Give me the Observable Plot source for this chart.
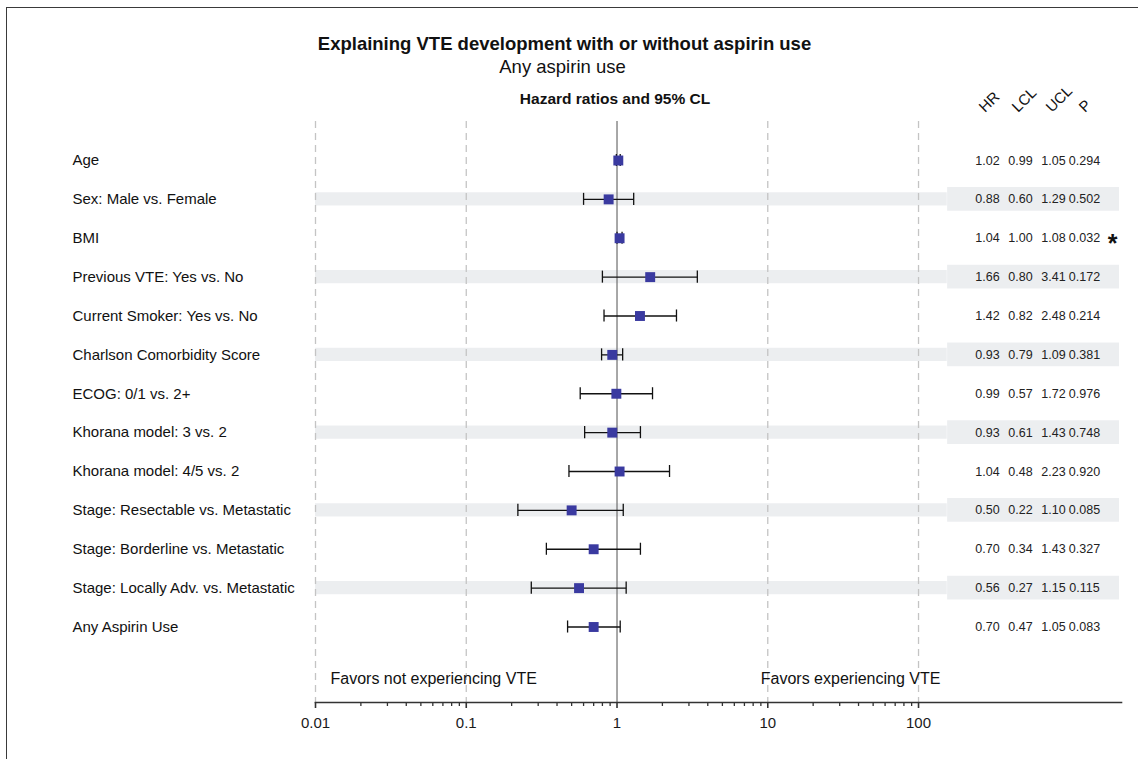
<!DOCTYPE html>
<html>
<head>
<meta charset="utf-8">
<script src="https://cdn.jsdelivr.net/npm/d3@7"></script>
<script src="https://cdn.jsdelivr.net/npm/@observablehq/plot@0.6"></script>
<style>
  html, body { margin: 0; padding: 0; background: #fff; overflow: hidden; }
  #wrap { position: relative; width: 1138px; height: 759px; overflow: hidden; background: #fff; }
  #chart { position: absolute; left: 0; top: 0; }
  #border { position: absolute; left: 6px; top: 7px; width: 1300px; height: 900px;
            border-left: 1.6px solid #3a3a3a; border-top: 1.6px solid #3a3a3a; pointer-events: none; }
</style>
</head>
<body>
<div id="wrap"><div id="chart"></div><div id="border"></div></div>
<script>
// ---- data ----
const labels = [
  "Age",
  "Sex: Male vs. Female",
  "BMI",
  "Previous VTE: Yes vs. No",
  "Current Smoker: Yes vs. No",
  "Charlson Comorbidity Score",
  "ECOG: 0/1 vs. 2+",
  "Khorana model: 3 vs. 2",
  "Khorana model: 4/5 vs. 2",
  "Stage: Resectable vs. Metastatic",
  "Stage: Borderline vs. Metastatic",
  "Stage: Locally Adv. vs. Metastatic",
  "Any Aspirin Use"
];
const hr  = [1.02, 0.88, 1.04, 1.66, 1.42, 0.93, 0.99, 0.93, 1.04, 0.50, 0.70, 0.56, 0.70];
const lcl = [0.99, 0.60, 1.00, 0.80, 0.82, 0.79, 0.57, 0.61, 0.48, 0.22, 0.34, 0.27, 0.47];
const ucl = [1.05, 1.29, 1.08, 3.41, 2.48, 1.09, 1.72, 1.43, 2.23, 1.10, 1.43, 1.15, 1.05];
const pvals = ["0.294", "0.502", "0.032", "0.172", "0.214", "0.381", "0.976", "0.748", "0.920", "0.085", "0.327", "0.115", "0.083"];
const majorTicks = [0.01, 0.1, 1, 10, 100];
const majorTickLabels = ["0.01", "0.1", "1", "10", "100"];
const minorTicks = [0.02, 0.03, 0.04, 0.05, 0.06, 0.07, 0.08, 0.09,
                    0.2, 0.3, 0.4, 0.5, 0.6, 0.7, 0.8, 0.9,
                    2, 3, 4, 5, 6, 7, 8, 9,
                    20, 30, 40, 50, 60, 70, 80, 90];
const gridTicks = [0.01, 0.1, 10, 100];
const headers = ["HR", "LCL", "UCL", "P"];
const title = "Explaining VTE development with or without aspirin use";
const subtitle = "Any aspirin use";
const panelTitle = "Hazard ratios and 95% CL";
const favorsLeft = "Favors not experiencing VTE";
const favorsRight = "Favors experiencing VTE";

// ---- table built from the arrays ----
const rows = labels.map((label, i) => ({i, label, hr: hr[i], lcl: lcl[i], ucl: ucl[i], p: pvals[i]}));
const shaded = rows.filter(d => d.i % 2 === 1);
const starred = rows.filter(d => +d.p < 0.05);

const xMax = 2220;   // right end of the frame (table area lies past the plotted range)
const plotEnd = 155; // end of the forest-plot panel
const font = "'Liberation Sans', Arial, Helvetica, sans-serif";
const headerDx = [-144, -111, -77, -44];
const colDx = {hr: -134, lcl: -101, ucl: -68, p: -37, star: -9};
const statFont = 12.5;

const marks = [
  // shaded bands
  Plot.rect(shaded, {x1: plotEnd + 1, x2: xMax * 0.97, y1: d => d.i - 0.305, y2: d => d.i + 0.305, fill: "#eceef0"}),
  Plot.rect(shaded, {x1: 0.01, x2: plotEnd, y1: d => d.i - 0.17, y2: d => d.i + 0.17, fill: "#eceef0"}),
  // grid
  Plot.ruleX(gridTicks, {stroke: "#c4c4c4", strokeWidth: 1.3, strokeDasharray: "7,5"}),
  Plot.ruleX([1], {stroke: "#6e6e6e", strokeWidth: 1.2}),
  // axis line + ticks
  Plot.frame({anchor: "bottom", stroke: "#333", strokeWidth: 1.6}),
  Plot.axisX(minorTicks, {anchor: "bottom", tickSize: 4, tickFormat: () => "", stroke: "#333", strokeWidth: 1.3}),
  Plot.axisX(majorTicks, {anchor: "bottom", tickSize: 6, tickPadding: 9, stroke: "#333", strokeWidth: 1.6,
    tickFormat: d => majorTickLabels[majorTicks.indexOf(d)], fontSize: 15, fill: "#1a1a1a"}),
  // error bars
  Plot.link(rows, {x1: "lcl", x2: "ucl", y1: "i", y2: "i", stroke: "#111", strokeWidth: 1.3}),
  Plot.ruleX(rows, {x: "lcl", y1: d => d.i - 0.155, y2: d => d.i + 0.155, stroke: "#111", strokeWidth: 1.3}),
  Plot.ruleX(rows, {x: "ucl", y1: d => d.i - 0.155, y2: d => d.i + 0.155, stroke: "#111", strokeWidth: 1.3}),
  Plot.dot(rows, {x: "hr", y: "i", symbol: "square", r: 5.6, fill: "#3a3aa0", stroke: "none"}),
  // row labels
  Plot.text(rows, {y: "i", text: "label", frameAnchor: "left", textAnchor: "start", dx: -243, fontSize: 15, fill: "#111"}),
  // statistics table
  Plot.text(rows, {y: "i", text: d => d.hr.toFixed(2), frameAnchor: "right", textAnchor: "middle", dx: colDx.hr, fontSize: statFont, fill: "#222"}),
  Plot.text(rows, {y: "i", text: d => d.lcl.toFixed(2), frameAnchor: "right", textAnchor: "middle", dx: colDx.lcl, fontSize: statFont, fill: "#222"}),
  Plot.text(rows, {y: "i", text: d => d.ucl.toFixed(2), frameAnchor: "right", textAnchor: "middle", dx: colDx.ucl, fontSize: statFont, fill: "#222"}),
  Plot.text(rows, {y: "i", text: "p", frameAnchor: "right", textAnchor: "middle", dx: colDx.p, fontSize: statFont, fill: "#222"}),
  Plot.text(starred, {y: "i", text: () => "*", frameAnchor: "right", textAnchor: "middle", dx: colDx.star, dy: 6, fontSize: 25, fontWeight: "bold", fill: "#111"}),
  // rotated headers
  ...headers.map((h, k) => Plot.text([h], {text: d => d, frameAnchor: "top-right", dx: headerDx[k], dy: -16,
    rotate: -45, textAnchor: "start", fontSize: 15, fill: "#111"})),
  // titles
  Plot.text([title], {text: d => d, frameAnchor: "top-left", textAnchor: "middle", dx: 249, dy: -85, fontSize: 18.5, fontWeight: "bold", fill: "#111"}),
  Plot.text([subtitle], {text: d => d, frameAnchor: "top-left", textAnchor: "middle", dx: 247, dy: -62, fontSize: 18.5, fill: "#111"}),
  Plot.text([panelTitle], {text: d => d, x: 1, frameAnchor: "top", textAnchor: "middle", dx: -2, dy: -29, fontSize: 15.5, fontWeight: "bold", fill: "#111"}),
  // favors annotations
  Plot.text([favorsLeft], {text: d => d, x: 0.01, frameAnchor: "bottom", dx: 15, dy: -19, textAnchor: "start", fontSize: 16, fill: "#111"}),
  Plot.text([favorsRight], {text: d => d, x: 10, frameAnchor: "bottom", dx: -7, dy: -19, textAnchor: "start", fontSize: 16, fill: "#111"})
];

const chart = Plot.plot({
  width: 1138,
  height: 759,
  marginLeft: 315,
  marginRight: 17,
  marginTop: 121,
  marginBottom: 57,
  style: {fontFamily: font, fontSize: "15px", color: "#111", background: "transparent"},
  x: {type: "log", domain: [0.01, xMax], axis: null},
  y: {type: "linear", domain: [0, labels.length - 1], range: [160, 626.5], axis: null},
  marks
});
document.getElementById("chart").appendChild(chart);
</script>
</body>
</html>
